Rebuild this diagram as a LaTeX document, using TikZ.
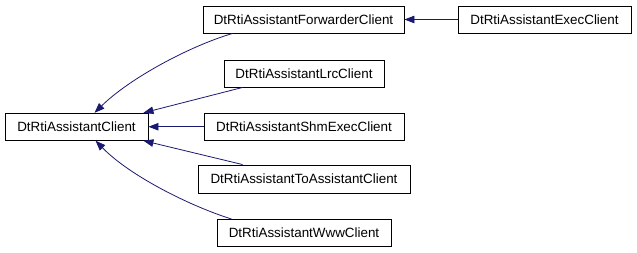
\documentclass[tikz,border=0pt]{standalone}
\usepackage{fontspec}
\setmainfont{Liberation Sans}
\usetikzlibrary{arrows.meta}
\definecolor{edgeblue}{HTML}{191970}
\begin{document}
\begin{tikzpicture}[x=1pt,y=-1pt,
  cls/.style={draw=black,line width=0.9pt,fill=white,inner sep=0pt,minimum height=27pt,font=\fontsize{13.4}{15}\selectfont},
  inh/.style={draw=edgeblue,line width=0.8pt,-{Triangle[length=10pt,width=7.5pt,fill=edgeblue]}}]
\useasboundingbox (0,0) rectangle (637,253);
\node[cls,minimum width=143pt] (client) at (76.5,126.75) {DtRtiAssistantClient};
\node[cls,minimum width=201pt] (fwd) at (303.5,19.5) {DtRtiAssistantForwarderClient};
\node[cls,minimum width=160pt] (lrc) at (304,73.5) {DtRtiAssistantLrcClient};
\node[cls,minimum width=200pt] (shm) at (304,126.75) {DtRtiAssistantShmExecClient};
\node[cls,minimum width=212pt,minimum height=28pt] (toa) at (304,179) {DtRtiAssistantToAssistantClient};
\node[cls,minimum width=174pt] (www) at (304,233) {DtRtiAssistantWwwClient};
\node[cls,minimum width=173pt] (exec) at (544.5,19.5) {DtRtiAssistantExecClient};
\draw[inh] ([xshift=30pt]fwd.south west) .. controls (190,46) and (130,78) .. ([xshift=90pt]client.north west);
\draw[inh] ([xshift=19pt]lrc.south west) -- ([xshift=-5pt]client.north east);
\draw[inh] (shm.west) -- (client.east);
\draw[inh] ([xshift=45pt]toa.north west) -- ([xshift=-5pt]client.south east);
\draw[inh] ([xshift=15pt]www.north west) .. controls (190,206) and (130,176) .. ([xshift=91pt]client.south west);
\draw[inh] (exec.west) -- (fwd.east);
\end{tikzpicture}
\end{document}
